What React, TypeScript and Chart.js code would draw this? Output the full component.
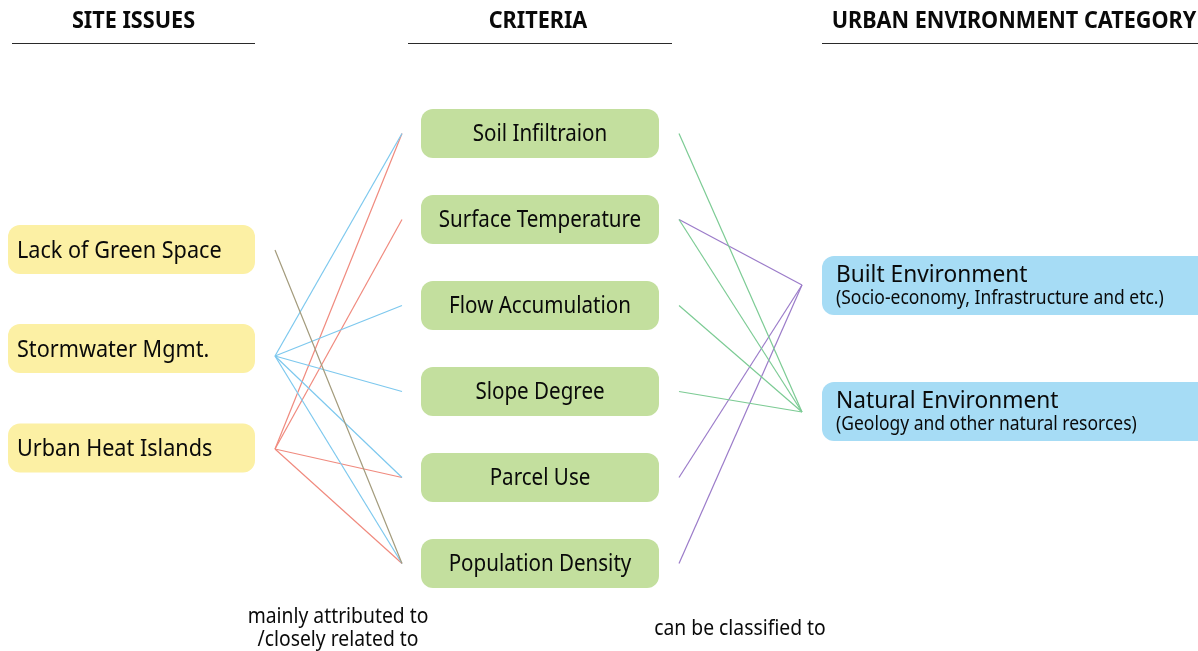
import React, { useEffect, useRef } from "react";
import { Chart, registerables } from "chart.js";

Chart.register(...registerables);

// ---------- data ----------
const columnTitles = ["SITE ISSUES", "CRITERIA", "URBAN ENVIRONMENT CATEGORY"];
const siteIssues = ["Lack of Green Space", "Stormwater Mgmt.", "Urban Heat Islands"];
const criteria = [
  "Soil Infiltraion",
  "Surface Temperature",
  "Flow Accumulation",
  "Slope Degree",
  "Parcel Use",
  "Population Density",
];
const categories = ["Built Environment", "Natural Environment"];
const categoryNotes = [
  "(Socio-economy, Infrastructure and etc.)",
  "(Geology and other natural resorces)",
];
// [site issue index, criterion index]
const issueLinks: [number, number][] = [
  [0, 5],
  [1, 0],
  [1, 2],
  [1, 3],
  [1, 4],
  [1, 5],
  [2, 0],
  [2, 1],
  [2, 4],
  [2, 5],
];
// [criterion index, category index]
const categoryLinks: [number, number][] = [
  [0, 1],
  [1, 1],
  [2, 1],
  [3, 1],
  [1, 0],
  [4, 0],
  [5, 0],
];
const linkCaptions = ["mainly attributed to", "/closely related to", "can be classified to"];

// ---------- layout & style ----------
const W = 1198;
const H = 651;
const FONT = "'Noto Sans', 'Open Sans', sans-serif";
const SQ = 0.9; // horizontal text squeeze

const issueBox = { x0: 8, x1: 255, h: 49, cy: [249.5, 348.5, 448] };
const issueAnchor = { x: 275, y: [250, 356, 449] };
const critBox = { x0: 421, x1: 659, h: 49, cy0: 133.5, step: 86 };
const critAnchor = { left: 402, right: 679 };
const catBox = { x0: 822, x1: 1215, h: 59, y0: [256, 382] };
const catAnchor = { x: 802, y: [285, 412] };

const issueColors = ["#a39b7c", "#7dc8ee", "#f08a7e"];
const categoryColors = ["#9b7bc9", "#7ccb94"];
const issueFill = "#fcf0a4";
const critFill = "#c3df9e";
const catFill = "#a6dcf5";

const critCy = (i: number) => critBox.cy0 + critBox.step * i;

function drawText(
  ctx: CanvasRenderingContext2D,
  text: string,
  x: number,
  y: number,
  font: string,
  align: CanvasTextAlign,
  sq = SQ
) {
  ctx.save();
  ctx.font = font;
  ctx.textBaseline = "middle";
  ctx.textAlign = align;
  ctx.fillStyle = "#0a0a0a";
  ctx.translate(x, y);
  ctx.scale(sq, 1);
  ctx.fillText(text, 0, 0);
  ctx.restore();
}

const diagramPlugin = {
  id: "diagram",
  beforeDatasetsDraw(chart: any) {
    const { ctx, scales } = chart;
    const X = (v: number) => scales.x.getPixelForValue(v);
    const Y = (v: number) => scales.y.getPixelForValue(v);
    ctx.save();
    // headers
    const heads = [
      { x0: 12, x1: 255, cx: 133.5 },
      { x0: 408, x1: 672, cx: 538 },
      { x0: 822, x1: 1198, cx: 1014 },
    ];
    columnTitles.forEach((t, i) => {
      const h = heads[i];
      drawText(ctx, t, X(h.cx), Y(21.5), `bold 23px ${FONT}`, "center", 0.94);
      ctx.strokeStyle = "#2a2a2a";
      ctx.lineWidth = 1;
      ctx.beginPath();
      ctx.moveTo(X(h.x0), Y(43.5));
      ctx.lineTo(X(h.x1), Y(43.5));
      ctx.stroke();
    });
    // site issue boxes
    siteIssues.forEach((t, i) => {
      const cy = issueBox.cy[i];
      ctx.fillStyle = issueFill;
      ctx.beginPath();
      ctx.roundRect(X(issueBox.x0), Y(cy - issueBox.h / 2), X(issueBox.x1) - X(issueBox.x0), Y(cy + issueBox.h / 2) - Y(cy - issueBox.h / 2), 12);
      ctx.fill();
      drawText(ctx, t, X(17), Y(cy + 1.5), `23.5px ${FONT}`, "left", 0.92);
    });
    // criteria boxes
    criteria.forEach((t, i) => {
      const cy = critCy(i);
      ctx.fillStyle = critFill;
      ctx.beginPath();
      ctx.roundRect(X(critBox.x0), Y(cy - critBox.h / 2), X(critBox.x1) - X(critBox.x0), Y(cy + critBox.h / 2) - Y(cy - critBox.h / 2), 12);
      ctx.fill();
      drawText(ctx, t, X((critBox.x0 + critBox.x1) / 2), Y(cy + 1), `23.5px ${FONT}`, "center", 0.875);
    });
    // category boxes
    categories.forEach((t, i) => {
      const y0 = catBox.y0[i];
      ctx.fillStyle = catFill;
      ctx.beginPath();
      ctx.roundRect(X(catBox.x0), Y(y0), X(catBox.x1) - X(catBox.x0), Y(y0 + catBox.h) - Y(y0), 12);
      ctx.fill();
      drawText(ctx, t, X(836), Y(y0 + 19), `24px ${FONT}`, "left", 0.945);
      drawText(ctx, categoryNotes[i], X(836), Y(y0 + 43), `19px ${FONT}`, "left", 0.92);
    });
    // captions
    drawText(ctx, linkCaptions[0], X(338), Y(617), `21px ${FONT}`, "center", 0.92);
    drawText(ctx, linkCaptions[1], X(338), Y(640), `21px ${FONT}`, "center", 0.92);
    drawText(ctx, linkCaptions[2], X(740), Y(629), `21px ${FONT}`, "center", 0.92);
    ctx.restore();
  },
};

export default function App() {
  const ref = useRef<HTMLCanvasElement | null>(null);
  useEffect(() => {
    if (!ref.current) return;
    const datasets: any[] = [];
    issueLinks.forEach(([s, c]) => {
      datasets.push({
        data: [
          { x: issueAnchor.x, y: issueAnchor.y[s] },
          { x: critAnchor.left, y: critCy(c) },
        ],
        borderColor: issueColors[s],
        borderWidth: 1.2,
        pointRadius: 0,
        showLine: true,
      });
    });
    categoryLinks.forEach(([c, k]) => {
      datasets.push({
        data: [
          { x: critAnchor.right, y: critCy(c) },
          { x: catAnchor.x, y: catAnchor.y[k] },
        ],
        borderColor: categoryColors[k],
        borderWidth: 1.2,
        pointRadius: 0,
        showLine: true,
      });
    });
    const chart = new Chart(ref.current, {
      type: "scatter",
      data: { datasets },
      options: {
        animation: false,
        responsive: false,
        maintainAspectRatio: false,
        devicePixelRatio: 1,
        layout: { padding: 0 },
        events: [],
        scales: {
          x: { type: "linear", min: 0, max: W, display: false },
          y: { type: "linear", min: 0, max: H, reverse: true, display: false },
        },
        plugins: { legend: { display: false }, tooltip: { enabled: false } },
      } as any,
      plugins: [diagramPlugin],
    });
    return () => chart.destroy();
  }, []);
  return (
    <div style={{ position: "fixed", left: 0, top: 0, width: W, height: H, background: "#fff" }}>
      <canvas ref={ref} width={W} height={H} style={{ display: "block", width: W, height: H }} />
    </div>
  );
}
